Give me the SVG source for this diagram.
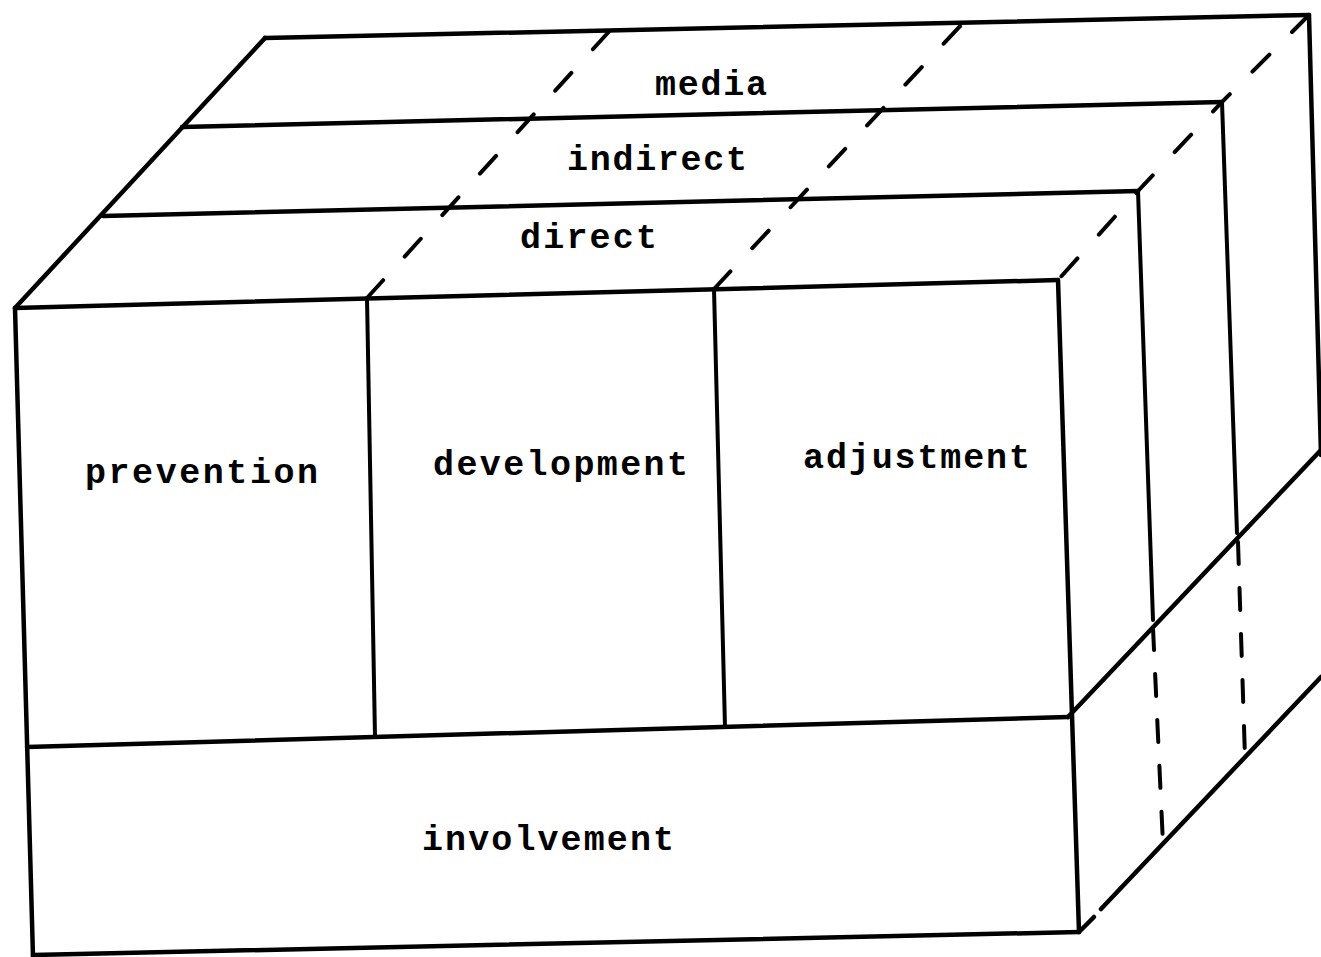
<svg xmlns="http://www.w3.org/2000/svg" width="1321" height="957" viewBox="0 0 1321 957">
  <style>
    .edge { fill: none; stroke: #000; stroke-width: 4.5; stroke-linecap: round; stroke-linejoin: round; }
    .inner { fill: none; stroke: #000; stroke-width: 4; stroke-linecap: round; }
    .hidden { fill: none; stroke: #000; stroke-width: 4; stroke-linecap: round; stroke-dasharray: 24 32; }
    .hidden-side { fill: none; stroke: #000; stroke-width: 4; stroke-linecap: round; stroke-dasharray: 22 24; }
    .label { font-family: "Liberation Mono", "DejaVu Sans Mono", monospace; font-size: 35px; font-weight: bold; fill: #000; }
  </style>
  <rect width="1321" height="957" fill="#fff"/>

  <!-- block outline and cell divisions -->
  <g id="cube">
    <!-- top face: back edge, layer separators, front edge -->
    <line class="edge" x1="265" y1="38" x2="1309" y2="15"/>
    <line class="edge" x1="182" y1="127" x2="1222" y2="102"/>
    <line class="edge" x1="103" y1="216" x2="1138" y2="191"/>
    <line class="edge" x1="15" y1="308" x2="1058" y2="280"/>
    <!-- left slanted edge of the top face -->
    <line class="edge" x1="265" y1="38" x2="15" y2="308"/>
    <!-- front face -->
    <line class="edge" x1="15" y1="308" x2="33" y2="957"/>
    <line class="edge" x1="27" y1="747" x2="1068" y2="717"/>
    <line class="edge" x1="33" y1="955" x2="1079" y2="932"/>
    <line class="inner" x1="367" y1="298" x2="375" y2="737"/>
    <line class="inner" x1="714" y1="289" x2="725" y2="727"/>
    <line class="edge" x1="1058" y1="280" x2="1079" y2="932"/>
    <!-- right side: layer edges -->
    <line class="inner" x1="1138" y1="191" x2="1153" y2="620"/>
    <line class="inner" x1="1222" y1="102" x2="1237" y2="533"/>
    <line class="edge" x1="1309" y1="15" x2="1321" y2="455"/>
    <!-- right side: slanted edges of the involvement block -->
    <line class="edge" x1="1068" y1="717" x2="1321" y2="450"/>
    <line class="edge" x1="1079" y1="932" x2="1094" y2="917"/>
    <line class="edge" x1="1101" y1="909" x2="1321" y2="677"/>
  </g>

  <!-- hidden edges drawn dashed -->
  <g id="hidden-edges">
    <line class="hidden" x1="367" y1="298" x2="614" y2="26"/>
    <line class="hidden" x1="714" y1="289" x2="964" y2="22"/>
    <path class="hidden" d="M1309 15 L1222 102 L1138 191 L1058 280" stroke-dasharray="18 20"/>
    <line class="hidden-side" x1="1153" y1="628" x2="1163" y2="844"/>
    <line class="hidden-side" x1="1238" y1="542" x2="1245" y2="757"/>
  </g>

  <!-- layer labels on the top face -->
  <g id="layer-media">
    <text class="label" x="655" y="95" textLength="112" lengthAdjust="spacing">media</text>
  </g>
  <g id="layer-indirect">
    <text class="label" x="567" y="170" textLength="180" lengthAdjust="spacing">indirect</text>
  </g>
  <g id="layer-direct">
    <text class="label" x="520" y="248" textLength="137" lengthAdjust="spacing">direct</text>
  </g>

  <!-- purpose columns on the front face -->
  <g id="col-prevention">
    <text class="label" x="85" y="483" textLength="233" lengthAdjust="spacing">prevention</text>
  </g>
  <g id="col-development">
    <text class="label" x="433" y="475" textLength="255" lengthAdjust="spacing">development</text>
  </g>
  <g id="col-adjustment">
    <text class="label" x="803" y="468" textLength="227" lengthAdjust="spacing">adjustment</text>
  </g>

  <!-- bottom slab -->
  <g id="row-involvement">
    <text class="label" x="422" y="850" textLength="252" lengthAdjust="spacing">involvement</text>
  </g>
</svg>
